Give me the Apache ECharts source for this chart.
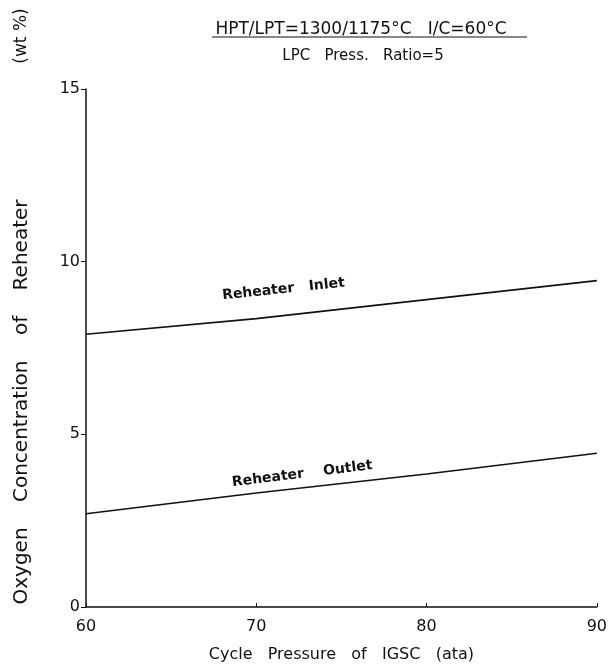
<!DOCTYPE html>
<html>
<head>
<meta charset="utf-8">
<script src="https://cdn.jsdelivr.net/npm/echarts@6/dist/echarts.min.js"></script>
<style>
html,body{margin:0;padding:0;background:#fff;}
#c{width:610px;height:668px;}
</style>
</head>
<body>
<div id="c"></div>
<script>
var pressure = [60, 70, 80, 90];
var inletO2 = [7.9, 8.35, 8.9, 9.45];
var outletO2 = [2.7, 3.3, 3.85, 4.45];
var yTicks = [0, 5, 10, 15];
var xTicks = [60, 70, 80, 90];
var titleText = 'HPT/LPT=1300/1175°C   I/C=60°C';
var subtitleText = 'LPC   Press.   Ratio=5';
var xName = 'Cycle   Pressure   of   IGSC   (ata)';
var yName = 'Oxygen    Concentration    of    Reheater';
var yUnit = '(wt %)';
var inletLabel = 'Reheater   Inlet';
var outletLabel = 'Reheater    Outlet';

var font = 'DejaVu Sans';
var hidden = {color: 'rgba(0,0,0,0)'};
var chart = echarts.init(document.getElementById('c'));
chart.setOption({
  animation: false,
  backgroundColor: '#fff',
  title: [
    {text: titleText, left: 356, top: 16, textAlign: 'center',
     textStyle: {fontFamily: font, fontWeight: 'normal', fontSize: 17, color: '#111'}},
    {text: subtitleText, left: 358, top: 44, textAlign: 'center',
     textStyle: {fontFamily: font, fontWeight: 'normal', fontSize: 15, color: '#111'}}
  ],
  grid: {left: 86, right: 11, top: 89, bottom: 57},
  xAxis: {
    type: 'value', min: 60, max: 90, interval: 10,
    axisLine: {lineStyle: {color: '#111', width: 1.5}},
    axisTick: {inside: true, length: 4, lineStyle: {color: '#111'}},
    splitLine: {show: false},
    axisLabel: {fontFamily: font, fontSize: 16, color: '#111', margin: 12},
    name: xName, nameLocation: 'middle', nameGap: 40,
    nameTextStyle: {fontFamily: font, fontSize: 16, color: '#111'}
  },
  yAxis: {
    type: 'value', min: 0, max: 15, interval: 5,
    axisLine: {lineStyle: {color: '#111', width: 1.5}},
    axisTick: {length: 5, lineStyle: {color: '#111'}},
    splitLine: {show: false},
    axisLabel: {fontFamily: font, fontSize: 16, color: '#111', margin: 6}
  },
  graphic: [
    {type: 'line', shape: {x1: 212, y1: 37, x2: 527, y2: 37}, style: {stroke: '#111', lineWidth: 1}},
    {type: 'text', x: 22, y: 402, rotation: Math.PI / 2,
     style: {text: yName, font: '20px "DejaVu Sans"', fill: '#111', textAlign: 'center', textVerticalAlign: 'middle'}},
    {type: 'text', x: 22, y: 36, rotation: Math.PI / 2,
     style: {text: yUnit, font: '17px "DejaVu Sans"', fill: '#111', textAlign: 'center', textVerticalAlign: 'middle'}}
  ],
  series: [
    {
      type: 'line', data: pressure.map(function (p, i) { return [p, inletO2[i]]; }),
      symbol: 'none', lineStyle: {color: '#111', width: 1.6},
      markPoint: {
        symbol: 'rect', symbolSize: 1, itemStyle: hidden,
        data: [{coord: [71.6, 9.2], label: {show: true, position: 'inside', formatter: inletLabel, rotate: 6,
          fontFamily: font, fontSize: 14, fontWeight: 'bold', color: '#111'}}]
      }
    },
    {
      type: 'line', data: pressure.map(function (p, i) { return [p, outletO2[i]]; }),
      symbol: 'none', lineStyle: {color: '#111', width: 1.6},
      markPoint: {
        symbol: 'rect', symbolSize: 1, itemStyle: hidden,
        data: [{coord: [72.7, 3.85], label: {show: true, position: 'inside', formatter: outletLabel, rotate: 7,
          fontFamily: font, fontSize: 14, fontWeight: 'bold', color: '#111'}}]
      }
    }
  ]
});
</script>
</body>
</html>
